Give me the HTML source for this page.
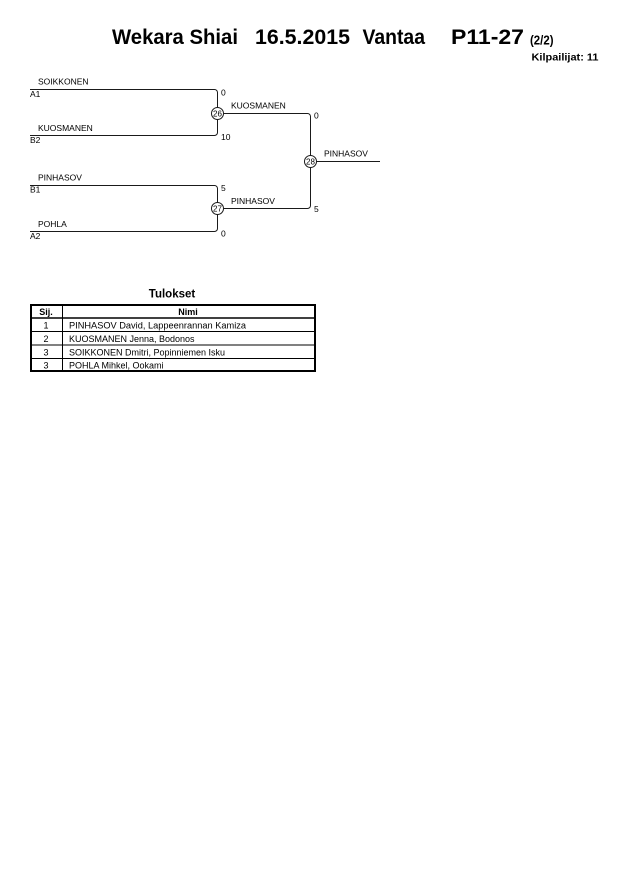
<!DOCTYPE html>
<html>
<head>
<meta charset="utf-8">
<style>
html,body{margin:0;padding:0;background:#fff;}
body{width:630px;height:891px;overflow:hidden;}
svg{display:block;}
text{font-family:"Liberation Sans",Arial,sans-serif;fill:#000;}
</style>
</head>
<body>
<svg width="630" height="891" viewBox="0 0 630 891" xmlns="http://www.w3.org/2000/svg">
  <!-- Title -->
  <g font-weight="bold" font-size="21">
    <text x="112" y="44" textLength="126" lengthAdjust="spacingAndGlyphs">Wekara Shiai</text>
    <text x="255" y="44" textLength="95" lengthAdjust="spacingAndGlyphs">16.5.2015</text>
    <text x="362.5" y="44" textLength="62.5" lengthAdjust="spacingAndGlyphs">Vantaa</text>
    <text x="451" y="44" textLength="73" lengthAdjust="spacingAndGlyphs">P11-27</text>
  </g>
  <text x="530" y="44.5" font-weight="bold" font-size="13" textLength="23.5" lengthAdjust="spacingAndGlyphs">(2/2)</text>
  <text x="531.5" y="60.5" font-weight="bold" font-size="10.5" textLength="67" lengthAdjust="spacingAndGlyphs">Kilpailijat: 11</text>

  <!-- Bracket lines -->
  <g fill="none" stroke="#1a1a1a" stroke-width="1">
    <path d="M30,89.5 H214.5 A3,3 0 0 1 217.5,92.5 V132.5 A3,3 0 0 1 214.5,135.5 H30"/>
    <path d="M30,185.5 H214.5 A3,3 0 0 1 217.5,188.5 V228.5 A3,3 0 0 1 214.5,231.5 H30"/>
    <path d="M217.5,113.5 H307.5 A3,3 0 0 1 310.5,116.5 V205.5 A3,3 0 0 1 307.5,208.5 H217.5"/>
    <path d="M310.5,161.5 H380"/>
  </g>
  <g fill="#fff" stroke="#1a1a1a" stroke-width="1">
    <circle cx="217.5" cy="113.5" r="6"/>
    <circle cx="217.5" cy="208.5" r="6"/>
    <circle cx="310.5" cy="161.5" r="6"/>
  </g>
  <g font-size="8" text-anchor="middle">
    <text x="217.5" y="116.5">26</text>
    <text x="217.5" y="211.5">27</text>
    <text x="310.5" y="164.5">28</text>
  </g>

  <!-- Names & seeds -->
  <g font-size="8.5">
    <text x="38" y="84.5">SOIKKONEN</text>
    <text x="30" y="97">A1</text>
    <text x="38" y="131">KUOSMANEN</text>
    <text x="30" y="143">B2</text>
    <text x="38" y="180.5">PINHASOV</text>
    <text x="30" y="192.5">B1</text>
    <text x="38" y="227">POHLA</text>
    <text x="30" y="239">A2</text>

    <text x="231" y="108.5">KUOSMANEN</text>
    <text x="231" y="204">PINHASOV</text>
    <text x="324" y="156.5">PINHASOV</text>

    <text x="221" y="95.5">0</text>
    <text x="221" y="140">10</text>
    <text x="221" y="191">5</text>
    <text x="221" y="236.5">0</text>
    <text x="314" y="118.5">0</text>
    <text x="314" y="212">5</text>
  </g>

  <!-- Results table -->
  <text x="172" y="297.5" font-weight="bold" font-size="11.5" text-anchor="middle">Tulokset</text>
  <g fill="none" stroke="#000">
    <rect x="31" y="305" width="284" height="66" stroke-width="2"/>
    <line x1="30" y1="318" x2="316" y2="318" stroke-width="1.5"/>
    <line x1="30" y1="331.5" x2="316" y2="331.5" stroke-width="1"/>
    <line x1="30" y1="345" x2="316" y2="345" stroke-width="1"/>
    <line x1="30" y1="358.5" x2="316" y2="358.5" stroke-width="1"/>
    <line x1="62.5" y1="305" x2="62.5" y2="371" stroke-width="1"/>
  </g>
  <g font-size="9" font-weight="bold" text-anchor="middle">
    <text x="46" y="315">Sij.</text>
    <text x="188" y="315">Nimi</text>
  </g>
  <g font-size="9" text-anchor="middle">
    <text x="46" y="328.5">1</text>
    <text x="46" y="342">2</text>
    <text x="46" y="355.5">3</text>
    <text x="46" y="368.5">3</text>
  </g>
  <g font-size="9">
    <text x="69" y="328.5" textLength="177" lengthAdjust="spacingAndGlyphs">PINHASOV David, Lappeenrannan Kamiza</text>
    <text x="69" y="342">KUOSMANEN Jenna, Bodonos</text>
    <text x="69" y="355.5">SOIKKONEN Dmitri, Popinniemen Isku</text>
    <text x="69" y="368.5">POHLA Mihkel, Ookami</text>
  </g>
</svg>
</body>
</html>
